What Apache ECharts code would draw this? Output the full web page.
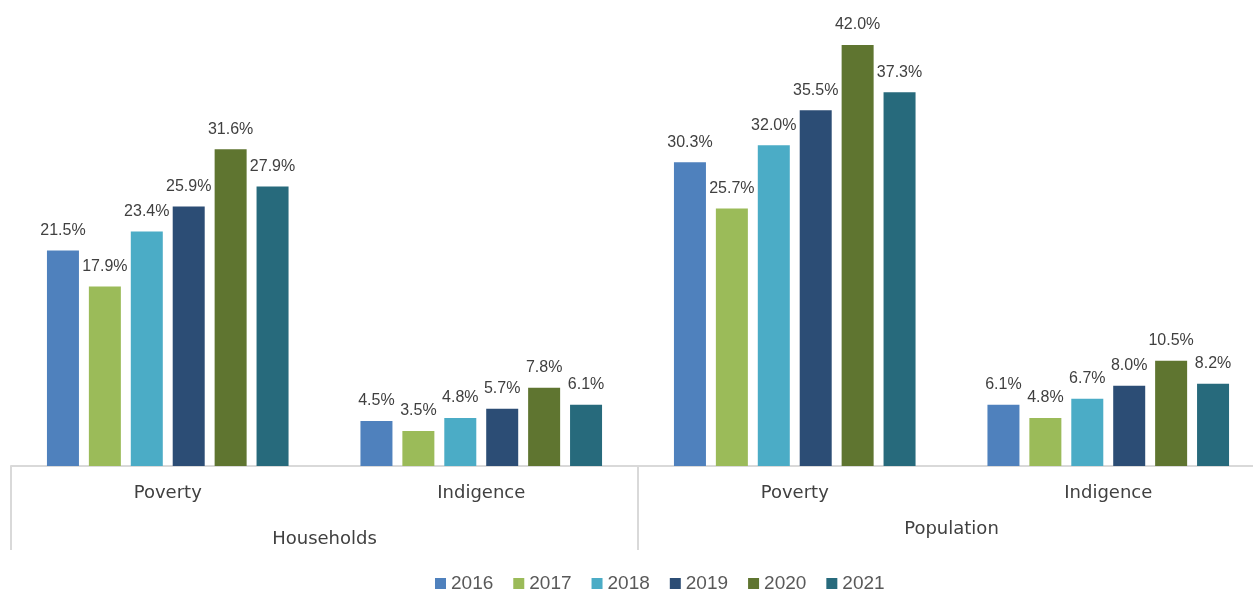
<!DOCTYPE html>
<html>
<head>
<meta charset="utf-8">
<script src="https://cdn.jsdelivr.net/npm/echarts@6/dist/echarts.min.js"></script>
<style>html,body{margin:0;padding:0;background:#fff;overflow:hidden}#wrap{width:1253px;height:589px;overflow:hidden}#c{width:1265px;height:589px}</style>
</head>
<body>
<div id="wrap"><div id="c"></div></div>
<script>
const categories = ['Poverty', 'Indigence', 'Poverty', 'Indigence'];
const groups = ['Households', 'Population'];
const years = ['2016', '2017', '2018', '2019', '2020', '2021'];
const v2016 = [21.5, 4.5, 30.3, 6.1];
const v2017 = [17.9, 3.5, 25.7, 4.8];
const v2018 = [23.4, 4.8, 32.0, 6.7];
const v2019 = [25.9, 5.7, 35.5, 8.0];
const v2020 = [31.6, 7.8, 42.0, 10.5];
const v2021 = [27.9, 6.1, 37.3, 8.2];
const values = [v2016, v2017, v2018, v2019, v2020, v2021];
const colors = ['#4f81bd', '#9bbb59', '#4bacc6', '#2c4d75', '#5f7530', '#276a7c'];

const chart = echarts.init(document.getElementById('c'), null, {renderer: 'canvas'});
chart.setOption({
  animation: false,
  color: colors,
  grid: {left: 11, right: 0, top: 15, bottom: 123, containLabel: false},
  legend: {
    data: years, left: 430, top: 569, itemWidth: 11, itemHeight: 11, itemGap: 20,
    icon: 'rect',
    textStyle: {fontFamily: 'Liberation Sans', fontSize: 19, color: '#595959'}
  },
  xAxis: [
    {
      type: 'category', data: categories, position: 'bottom',
      axisLine: {lineStyle: {color: '#d9d9d9', width: 2}},
      axisTick: {show: false},
      axisLabel: {margin: 18, fontFamily: 'DejaVu Sans', fontSize: 18, color: '#404040'}
    },
    {
      type: 'category', data: groups, position: 'bottom',
      axisLine: {show: false},
      axisTick: {show: true, length: 84, lineStyle: {color: '#d9d9d9', width: 2}},
      axisLabel: {
        margin: 56, fontFamily: 'DejaVu Sans', fontSize: 18, color: '#404040',
        formatter: v => v === 'Households' ? '{a|' + v + '}' : '{b|' + v + '}',
        rich: {
          a: {fontFamily: 'DejaVu Sans', fontSize: 18, color: '#404040', padding: [8, 0, 0, 0]},
          b: {fontFamily: 'DejaVu Sans', fontSize: 18, color: '#404040', padding: [-2, 0, 0, 0]}
        }
      }
    }
  ],
  yAxis: {type: 'value', min: 0, max: 45, show: false, splitLine: {show: false}},
  series: years.map((y, i) => ({
    name: y, type: 'bar', data: values[i], xAxisIndex: 0,
    barWidth: 32, barGap: '31%', barCategoryGap: '23%',
    label: {
      show: true, position: 'top', distance: 12,
      formatter: p => p.value.toFixed(1) + '%',
      fontFamily: 'Liberation Sans', fontSize: 16, color: '#404040'
    }
  }))
});
</script>
</body>
</html>
